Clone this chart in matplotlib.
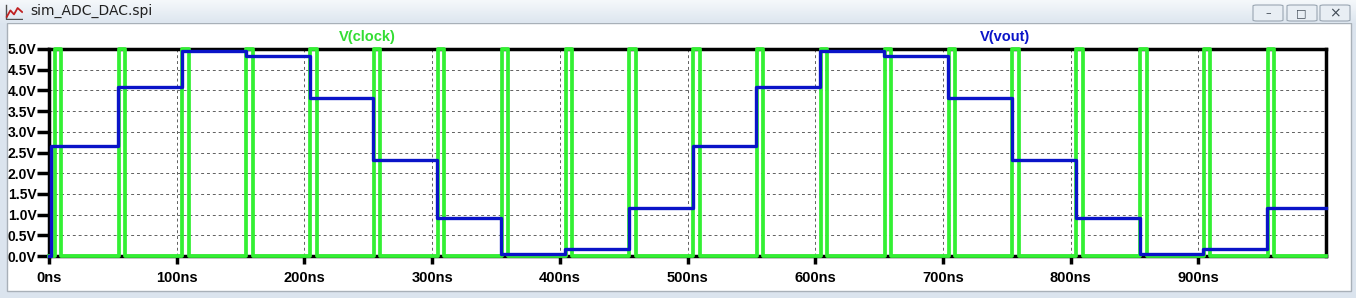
import matplotlib.pyplot as plt
from matplotlib.patches import Rectangle, FancyBboxPatch
from matplotlib.colors import LinearSegmentedColormap
import numpy as np

# clock pulses (ns): rising and falling edges, 0 / 5 V
clock_rise = [4.5, 54.5, 104.5, 154.5, 204.5, 254.5, 304.5, 354.5, 404.5, 454.5,
              504.5, 554.5, 604.5, 654.5, 704.5, 754.5, 804.5, 854.5, 904.5, 954.5]
clock_fall = [9.5, 59.5, 109.5, 159.5, 209.5, 259.5, 309.5, 359.5, 409.5, 459.5,
              509.5, 559.5, 609.5, 659.5, 709.5, 759.5, 809.5, 859.5, 909.5, 959.5]
clock_high = 5.0

# DAC output steps (ns, V)
vout_t = [0, 1.5, 54, 104, 154, 204, 254, 304, 354, 404, 454,
          504, 554, 604, 654, 704, 754, 804, 854, 904, 954]
vout_v = [0.0, 2.65, 4.08, 4.95, 4.82, 3.82, 2.33, 0.92, 0.06, 0.17, 1.17,
          2.65, 4.08, 4.95, 4.82, 3.82, 2.33, 0.92, 0.06, 0.17, 1.17]

y_ticks = [0.0, 0.5, 1.0, 1.5, 2.0, 2.5, 3.0, 3.5, 4.0, 4.5, 5.0]
x_ticks = [0, 100, 200, 300, 400, 500, 600, 700, 800, 900]

W, H = 1356, 298
fig = plt.figure(figsize=(W / 100, H / 100), dpi=100)
fig.patch.set_facecolor('#dbe4ee')

# window chrome
grad = np.linspace(0, 1, 30).reshape(-1, 1)
tb = fig.add_axes([0, 1 - 23 / H, 1, 23 / H])
tb.imshow(grad, aspect='auto', cmap=LinearSegmentedColormap.from_list('tb', ['#f5f8fb', '#dde6ef']),
          extent=[0, 1, 0, 1])
tb.set_axis_off()
fig.patches.append(Rectangle((7 / W, 7 / H), 1344 / W, (291 - 23) / H,
                             transform=fig.transFigure, facecolor='white',
                             edgecolor='#a8b0b8', lw=1, zorder=-10))
fig.text(30 / W, 1 - 11 / H, 'sim_ADC_DAC.spi', fontsize=10, va='center',
         family='DejaVu Sans', color='#202020')
# icon
ic = fig.add_axes([5 / W, 1 - 20 / H, 18 / W, 16 / H])
ic.set_xlim(0, 1); ic.set_ylim(0, 1)
ic.plot([0.05, 0.05, 0.95], [0.95, 0.05, 0.05], color='#505050', lw=1)
ic.plot([0.1, 0.3, 0.5, 0.7, 0.95], [0.2, 0.6, 0.35, 0.75, 0.5], color='#c02020', lw=1.3)
ic.set_axis_off()
for bx in [1253, 1287, 1320]:
    fig.patches.append(FancyBboxPatch((bx / W, 1 - 21 / H), 30 / W, 16 / H,
                                      boxstyle='round,pad=0,rounding_size=0.003',
                                      transform=fig.transFigure, facecolor='#e8eef4',
                                      edgecolor='#9aa6b2', lw=0.8))
fig.text(1268 / W, 1 - 13 / H, '\u2013', ha='center', va='center', fontsize=8, color='#404a55')
fig.text(1301 / W, 1 - 13 / H, '\u25a1', ha='center', va='center', fontsize=8, color='#404a55')
fig.text(1335 / W, 1 - 13 / H, '\u00d7', ha='center', va='center', fontsize=10, color='#404a55')

# plot area
ax = fig.add_axes([49 / W, (H - 256) / H, (1326 - 49) / W, (256 - 49) / H])
ax.set_facecolor('white')

ct, cv = [0], [0.0]
for r, f in zip(clock_rise, clock_fall):
    ct += [r, r, f, f]
    cv += [0.0, clock_high, clock_high, 0.0]
ct.append(1000)
cv.append(0.0)
ax.plot(ct, cv, color='#33f033', lw=2.7, solid_joinstyle='round', zorder=3, clip_on=False)
ax.step(vout_t + [1000], vout_v + [vout_v[-1]], where='post', color='#0a14c8', lw=2.4,
        zorder=4, clip_on=False)

ax.set_xlim(0, 1000)
ax.set_ylim(0, 5.0)
ax.set_xticks(x_ticks)
ax.set_xticklabels([f'{t}ns' for t in x_ticks])
ax.set_yticks(y_ticks)
ax.set_yticklabels([f'{v:.1f}V' for v in y_ticks])
for lab in ax.get_xticklabels() + ax.get_yticklabels():
    lab.set_fontweight('bold')
    lab.set_family('Liberation Sans')
ax.tick_params(axis='y', direction='out', length=9, width=2.5, labelsize=10, pad=0)
ax.tick_params(axis='x', direction='out', length=6, width=2.5, labelsize=10.5, pad=5)
ax.grid(True, linestyle=(0, (3, 3)), color='#606060', lw=0.7)
for s in ax.spines.values():
    s.set_linewidth(2.5)
    s.set_color('black')

fig.text(367 / W, 1 - 37 / H, 'V(clock)', color='#33dd33', fontsize=10.5, fontweight='bold',
         ha='center', va='center', family='Liberation Sans')
fig.text(1005 / W, 1 - 37 / H, 'V(vout)', color='#0a14c8', fontsize=10.5, fontweight='bold',
         ha='center', va='center', family='Liberation Sans')

fig.savefig('out.png', dpi=100)
